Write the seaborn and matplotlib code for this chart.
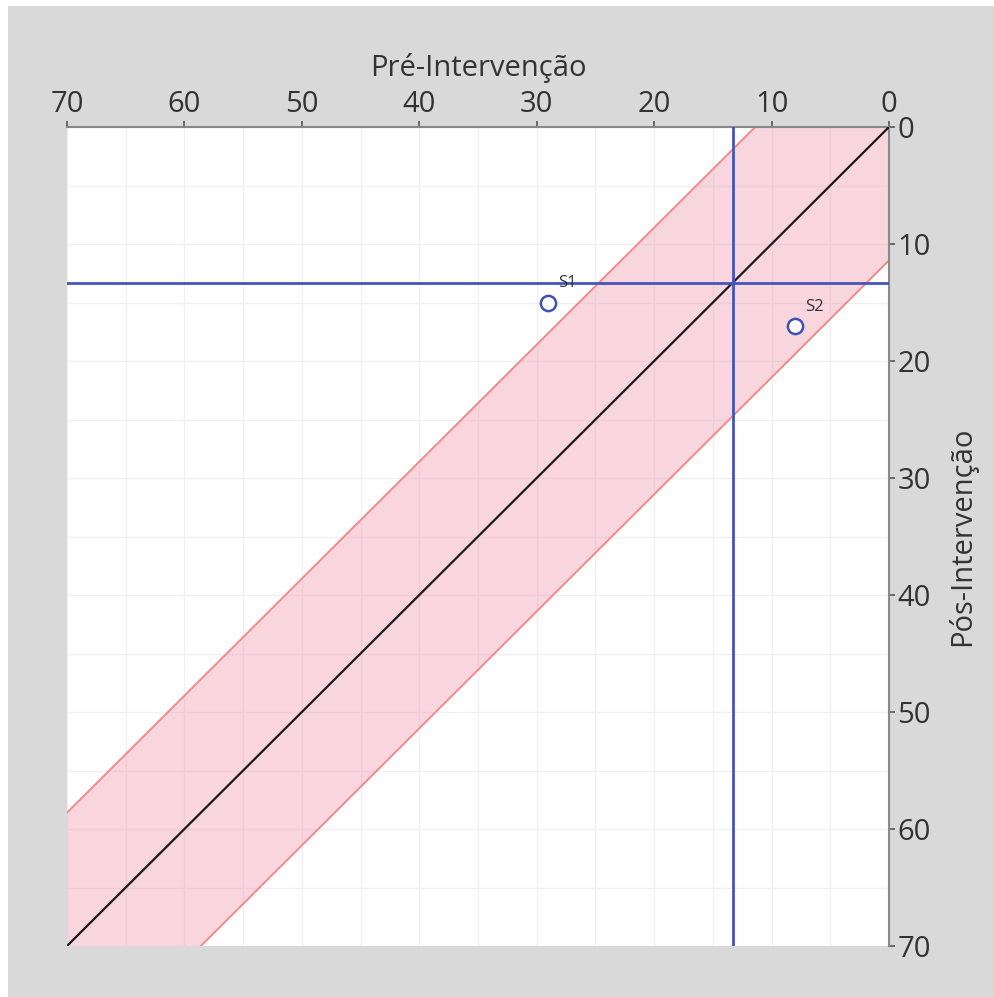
import numpy as np
import pandas as pd
import matplotlib
matplotlib.use("Agg")
import matplotlib.pyplot as plt
from matplotlib.patches import Rectangle
from matplotlib.ticker import MultipleLocator
import seaborn as sns

# Dados
subjects = ["S1", "S2"]
pre_scores = [29.0, 8.0]
post_scores = [15.0, 17.0]
axis_range = [0, 70]
cutoff = 13.3          # ponto de corte (linhas azuis)
rci_width = 11.4       # meia-largura da faixa de mudança não fiável
x_label = "Pré-Intervenção"
y_label = "Pós-Intervenção"

sns.set_style("white")
plt.rcParams["font.family"] = ["Open Sans", "DejaVu Sans"]

df = pd.DataFrame({"subject": subjects, "pre": pre_scores, "post": post_scores})

fig = plt.figure(figsize=(9.95, 9.97), dpi=100, facecolor="#d9d9d9")
# faixa branca à esquerda e em cima
fig.patches.append(Rectangle((0, 0), 8 / 995, 1, transform=fig.transFigure,
                             facecolor="white", edgecolor="none", zorder=0))
fig.patches.append(Rectangle((0, 1 - 6 / 997), 1, 6 / 997, transform=fig.transFigure,
                             facecolor="white", edgecolor="none", zorder=0))

ax = fig.add_axes([67 / 995, 1 - 946 / 997, 822 / 995, 819 / 997])
ax.set_facecolor("white")

# faixa de mudança não fiável
xs = np.array(axis_range, dtype=float)
ax.fill_between(xs, xs - rci_width, xs + rci_width, color="#f08fa6", alpha=0.36,
                linewidth=0, zorder=1)
ax.plot(xs, xs - rci_width, color="#f28a8a", lw=1.4, zorder=2)
ax.plot(xs, xs + rci_width, color="#f28a8a", lw=1.4, zorder=2)

# diagonal
sns.lineplot(x=xs, y=xs, color="#1a1a1a", lw=1.6, ax=ax, zorder=3)

# pontos de corte
ax.axvline(cutoff, color="#4455b8", lw=2, zorder=4)
ax.axhline(cutoff, color="#4455b8", lw=2, zorder=4)

sns.scatterplot(data=df, x="pre", y="post", ax=ax, s=120, facecolor="white",
                edgecolor="#3f51b5", linewidth=1.8, zorder=5)
for _, row in df.iterrows():
    ax.annotate(row["subject"], (row["pre"], row["post"]), xytext=(7, 8),
                textcoords="offset points", fontsize=12, color="#333333",
                ha="left", va="bottom", zorder=6)

ax.set_xlim(axis_range[1], axis_range[0])
ax.set_ylim(axis_range[1], axis_range[0])
ax.xaxis.set_major_locator(MultipleLocator(10))
ax.yaxis.set_major_locator(MultipleLocator(10))
ax.xaxis.set_minor_locator(MultipleLocator(5))
ax.yaxis.set_minor_locator(MultipleLocator(5))
ax.grid(True, which="both", color="#f0f0f0", lw=1, zorder=0)
ax.set_axisbelow(True)

ax.xaxis.tick_top()
ax.xaxis.set_label_position("top")
ax.yaxis.tick_right()
ax.yaxis.set_label_position("right")
ax.tick_params(which="major", length=4, width=1.2, color="#555555",
               labelsize=21, labelcolor="#333333", pad=2)
ax.tick_params(which="minor", length=0)
ax.set_xlabel(x_label, fontsize=21, color="#333333", labelpad=10)
ax.set_ylabel(y_label, fontsize=21, color="#333333", labelpad=12)

for side in ["left", "bottom"]:
    ax.spines[side].set_visible(False)
for side in ["top", "right"]:
    ax.spines[side].set_color("#888888")
    ax.spines[side].set_linewidth(1.5)

fig.savefig("out.png", dpi=100, facecolor=fig.get_facecolor())
